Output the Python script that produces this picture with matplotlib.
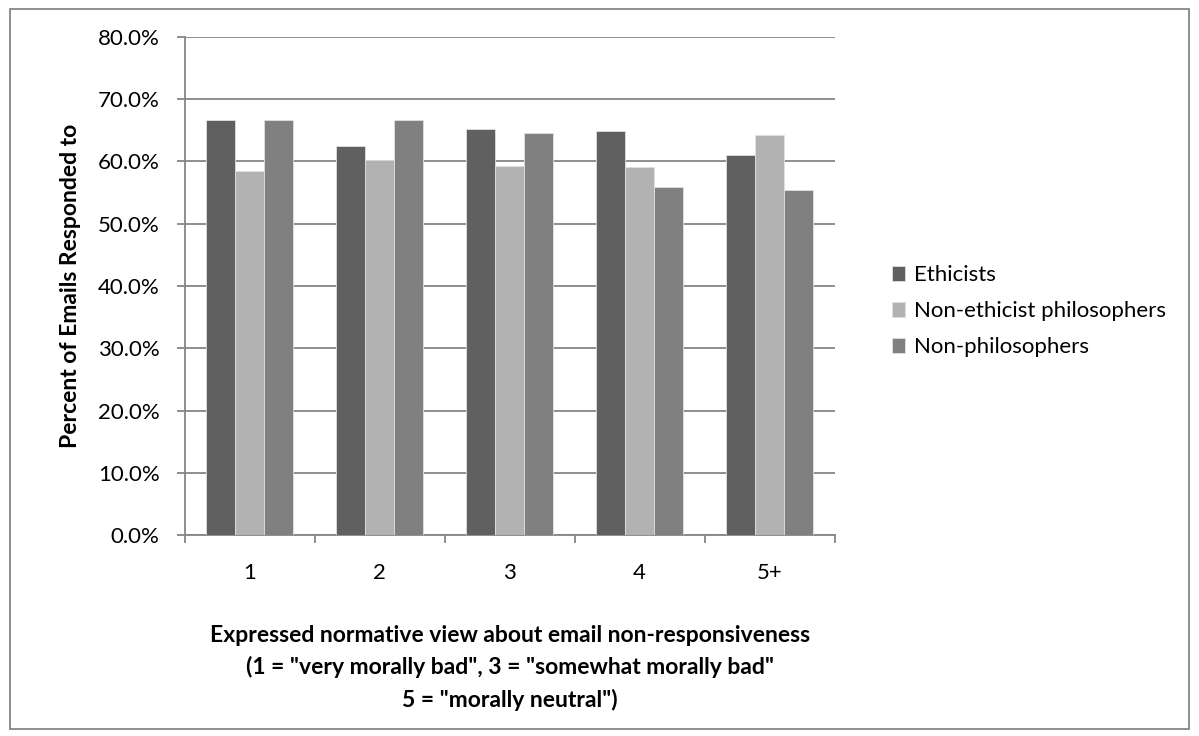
import matplotlib.pyplot as plt
import numpy as np
from matplotlib.patches import Rectangle
from matplotlib.ticker import FuncFormatter, FixedLocator

plt.rcParams["font.family"] = ["Lato", "DejaVu Sans"]

categories = ["1", "2", "3", "4", "5+"]
series_names = ["Ethicists", "Non-ethicist philosophers", "Non-philosophers"]
ethicists = [66.7, 62.5, 65.2, 64.9, 61.0]
non_ethicist_phil = [58.4, 60.2, 59.3, 59.1, 64.3]
non_philosophers = [66.7, 66.7, 64.5, 55.9, 55.4]
colors = ["#606060", "#b2b2b2", "#808080"]


def main():
    fig = plt.figure(figsize=(11.99, 7.36), dpi=100)
    ax = fig.add_axes([0.154, 0.273, 0.542, 0.677])

    x = np.arange(len(categories))
    width = 0.222
    for i, (vals, name) in enumerate(zip([ethicists, non_ethicist_phil, non_philosophers], series_names)):
        ax.bar(x + (i - 1) * width, vals, width, color=colors[i], label=name,
               edgecolor="#e0e0e0", linewidth=0.6, zorder=3)

    ax.set_xlim(-0.5, len(categories) - 0.5)
    ax.set_ylim(0, 80)
    ax.set_yticks(np.arange(0, 81, 10))
    ax.yaxis.set_major_formatter(FuncFormatter(lambda v, _: f"{v:.1f}%"))
    ax.yaxis.grid(True, color="#868686", linewidth=1.3, zorder=0)

    ax.set_xticks(x)
    ax.set_xticklabels(categories)
    ax.xaxis.set_minor_locator(FixedLocator(np.arange(-0.5, len(categories), 1.0)))
    ax.tick_params(axis="x", which="major", length=0, pad=20, labelsize=16)
    ax.tick_params(axis="x", which="minor", length=6, color="#868686", width=1.3)
    ax.tick_params(axis="y", length=6, color="#868686", width=1.3, pad=12, labelsize=16)

    for side in ["top", "right"]:
        ax.spines[side].set_visible(False)
    for side in ["left", "bottom"]:
        ax.spines[side].set_color("#868686")
        ax.spines[side].set_linewidth(1.3)

    ax.set_ylabel("Percent of Emails Responded to", fontsize=16.5, fontweight="bold", labelpad=12)
    ax.set_xlabel('Expressed normative view about email non-responsiveness\n'
                  '(1 = "very morally bad", 3 = "somewhat morally bad"\n'
                  '5 = "morally neutral")',
                  fontsize=16.5, fontweight="bold", labelpad=30, linespacing=1.6)

    fig.legend(loc="center left", bbox_to_anchor=(0.727, 0.577), frameon=False,
               fontsize=16, handlelength=0.6, handleheight=0.6, handletextpad=0.4,
               labelspacing=0.72)

    fig.patches.append(Rectangle((0.008, 0.01), 0.984, 0.978, transform=fig.transFigure,
                                 fill=False, edgecolor="#868686", linewidth=1.3))

    fig.savefig("out.png", dpi=100)
    plt.close(fig)


if __name__ == "__main__":
    main()
